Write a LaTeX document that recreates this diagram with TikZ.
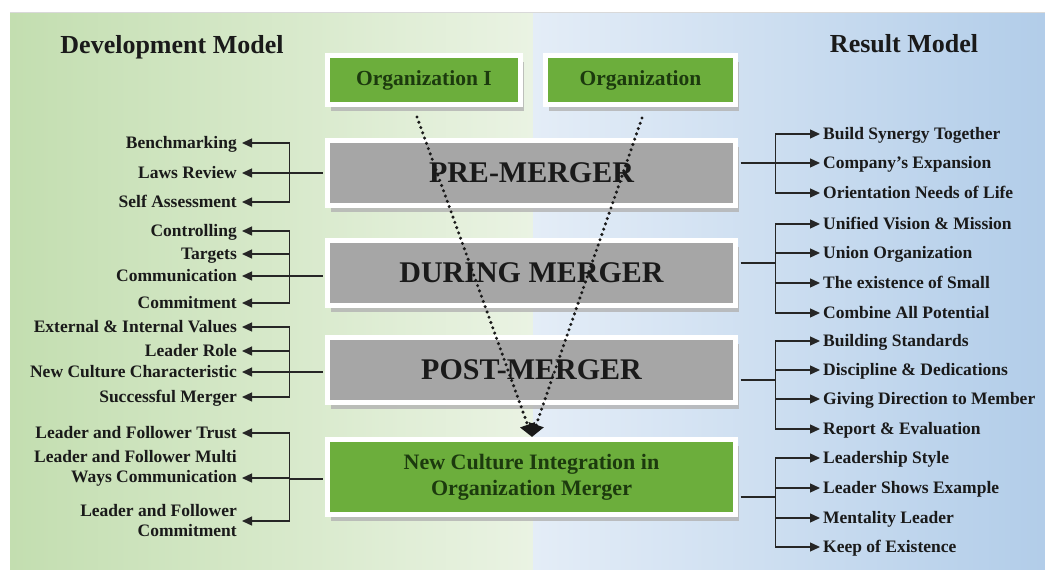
\documentclass[tikz,border=0pt]{standalone}
\usepackage{fontspec}
\setmainfont{Liberation Serif}
\usetikzlibrary{arrows.meta,shadows}
\definecolor{boxgreen}{HTML}{6CAE3C}
\definecolor{boxgray}{HTML}{A6A6A6}
\definecolor{txtgreen}{HTML}{1C3A0E}
\definecolor{txtdark}{HTML}{1A1A1A}
\definecolor{bgg1}{HTML}{C3DEB0}
\definecolor{bgg2}{HTML}{EAF3E3}
\definecolor{bgb1}{HTML}{E4EDF7}
\definecolor{bgb2}{HTML}{B2CDE9}
\tikzset{
  framed/.style={inner sep=0pt, draw=white, line width=5pt,
    drop shadow={shadow xshift=3pt, shadow yshift=-6pt, fill=black!30, opacity=0.8}},
  stage/.style={framed, fill=boxgray, minimum width=408pt, minimum height=65pt,
    font=\fontsize{30}{32}\selectfont\bfseries, text=txtdark},
  orgbox/.style={framed, fill=boxgreen, minimum height=49pt,
    font=\fontsize{21.5}{24}\selectfont\bfseries, text=txtgreen},
  culture/.style={framed, fill=boxgreen, minimum width=408pt, minimum height=75pt, align=center,
    font=\fontsize{22}{26}\selectfont\bfseries, text=txtgreen},
  title/.style={font=\fontsize{26}{28}\selectfont\bfseries, text=txtdark},
  ltxt/.style={anchor=east, inner xsep=5pt, inner ysep=0pt, text height=11.5pt, text depth=0pt,
    font=\fontsize{17.5}{20}\selectfont\bfseries, text=txtdark},
  ltxttwo/.style={anchor=east, inner xsep=5pt, inner ysep=0pt, align=right,
    font=\fontsize{17.5}{20}\selectfont\bfseries, text=txtdark},
  rtxt/.style={anchor=west, inner xsep=3pt, inner ysep=0pt, text height=11.5pt, text depth=0pt,
    font=\fontsize{17.5}{20}\selectfont\bfseries, text=txtdark},
  conn/.style={draw=black!85, line width=1.3pt},
  arr/.style={conn, -{Triangle[length=10pt,width=9pt]}},
  dotline/.style={draw=black!90, line width=3.4pt, line cap=round, dash pattern=on 0pt off 5.6pt,
    -{Triangle[length=13pt,width=15pt]}}
}
\begin{document}
\begin{tikzpicture}[x=1pt,y=-1pt]
\useasboundingbox (0,0) rectangle (1045,570);
\fill[white] (0,0) rectangle (1045,570);
\shade[left color=bgg1, right color=bgg2] (10,12) rectangle (533,570);
\shade[left color=bgb1, right color=bgb2] (533,12) rectangle (1045,570);
\draw[black!15, line width=1pt] (10,12.5) -- (1045,12.5);

% titles
\node[title] (tdev) at (172,47) {Development Model};
\node[title] (tres) at (904,44) {Result Model};

% boxes
\node[orgbox, minimum width=193pt] (org1) at (424,80) {Organization I};
\node[orgbox, minimum width=190pt] (org2) at (640.5,80) {Organization};
\node[stage] (pre) at (531.5,173) {PRE-MERGER};
\node[stage] (during) at (531.5,273) {DURING MERGER};
\node[stage] (post) at (531.5,370) {POST-MERGER};
\node[culture] (newc) at (531.5,477) {New Culture Integration in\\Organization Merger};

% dotted converging arrows
\coordinate (d1) at (417,117);
\coordinate (d2) at (642,118);
\coordinate (tip) at (532,437);
\draw[dotline] (d1) -- (tip);
\draw[dotline] (d2) -- (tip);

% left texts
\foreach \n/\y/\t in {l1/143/Benchmarking, l2/173/Laws Review, l3/202/Self Assessment,
  l4/231/Controlling, l5/254/Targets, l6/276/Communication, l7/303/Commitment,
  l8/327/External \& Internal Values, l9/351/Leader Role, l10/372/New Culture Characteristic,
  l11/397/Successful Merger, l12/433/Leader and Follower Trust}
  \node[ltxt] (\n) at (242,\y) {\t};
\node[ltxttwo] (l13) at (242,468) {Leader and Follower Multi\\Ways Communication};
\node[ltxttwo] (l14) at (242,521) {Leader and Follower\\Commitment};

% right texts
\foreach \n/\y/\t in {r1/134/Build Synergy Together, r2/163/Company’s Expansion, r3/193/Orientation Needs of Life,
  r4/224/Unified Vision \& Mission, r5/253/Union Organization, r6/283/The existence of Small, r7/313/Combine All Potential,
  r8/341/Building Standards, r9/370/Discipline \& Dedications, r10/399/Giving Direction to Member, r11/429/Report \& Evaluation,
  r12/458/Leadership Style, r13/488/Leader Shows Example, r14/518/Mentality Leader, r15/547/Keep of Existence}
  \node[rtxt] (\n) at (820,\y) {\t};

% left connectors
\draw[conn] ([xshift=-2.5pt]pre.west) -- ++(-33,0) coordinate (a1);
\foreach \n in {l1,l2,l3} \draw[arr] (a1) |- (\n.east);
\draw[conn] ([xshift=-2.5pt,yshift=-3pt]during.west) -- ++(-33,0) coordinate (a2);
\foreach \n in {l4,l5,l6,l7} \draw[arr] (a2) |- (\n.east);
\draw[conn] ([xshift=-2.5pt,yshift=-2pt]post.west) -- ++(-33,0) coordinate (a3);
\foreach \n in {l8,l9,l10,l11} \draw[arr] (a3) |- (\n.east);
\draw[conn] ([xshift=-2.5pt,yshift=-2pt]newc.west) -- ++(-33,0) coordinate (a4);
\draw[arr] (a4) |- (l12.east);
\draw[arr] (a4) |- ([yshift=-10pt]l13.east);
\draw[arr] (a4) |- (l14.east);

% right connectors
\draw[conn] ([xshift=2.5pt,yshift=10pt]pre.east) -- ++(35,0) coordinate (b1);
\foreach \n in {r1,r2,r3} \draw[arr] (b1) |- (\n.west);
\draw[conn] ([xshift=2.5pt,yshift=10pt]during.east) -- ++(35,0) coordinate (b2);
\foreach \n in {r4,r5,r6,r7} \draw[arr] (b2) |- (\n.west);
\draw[conn] ([xshift=2.5pt,yshift=-10pt]post.east) -- ++(35,0) coordinate (b3);
\foreach \n in {r8,r9,r10,r11} \draw[arr] (b3) |- (\n.west);
\draw[conn] ([xshift=2.5pt,yshift=-20pt]newc.east) -- ++(35,0) coordinate (b4);
\foreach \n in {r12,r13,r14,r15} \draw[arr] (b4) |- (\n.west);
\end{tikzpicture}
\end{document}
